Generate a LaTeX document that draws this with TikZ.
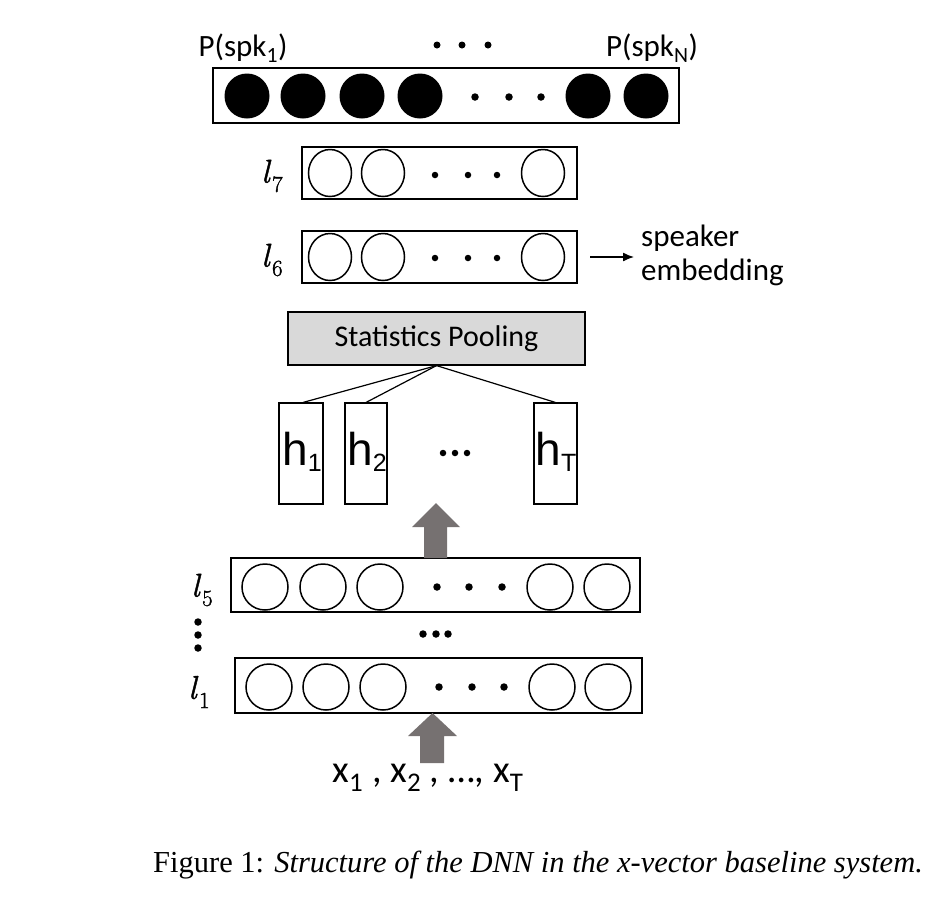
\documentclass[tikz,border=0pt]{standalone}
\usepackage{fontspec}
\setmainfont{Carlito}
\newfontfamily\arialfont{Liberation Sans}
\newfontfamily\capfont{Liberation Serif}
\newfontfamily\lmfont[FakeBold=1.3]{Latin Modern Roman}
\usetikzlibrary{shapes.geometric,calc,arrows.meta}
\definecolor{arrowgray}{RGB}{118,113,113}
\definecolor{poolgray}{RGB}{217,217,217}
\tikzset{
  layerbox/.style={draw=black, line width=1.6pt, rectangle, inner sep=0pt},
  neuron/.style={draw=black, line width=1.5pt, circle, inner sep=0pt, minimum size=46pt},
  oval/.style={draw=black, line width=1.5pt, ellipse, inner sep=0pt, minimum width=43pt, minimum height=47pt},
  outneuron/.style={fill=black, circle, inner sep=0pt, minimum size=45pt},
  bigdot/.style={fill=black, circle, inner sep=0pt, minimum size=7.5pt},
  hbox/.style={draw=black, line width=1.1pt, rectangle, inner sep=0pt, minimum height=101pt},
  hlabel/.style={font=\arialfont\fontsize{46}{46}\selectfont, inner sep=0pt},
  lbl/.style={font=\fontsize{31}{34}\selectfont, inner sep=0pt},
  layerlbl/.style={font=\lmfont\fontsize{33}{33}\selectfont, inner sep=0pt},
  blockarrow/.style={fill=arrowgray},
  link/.style={line width=1.2pt},
}
\newcommand{\hsub}[1]{\raisebox{-0.14em}{\fontsize{25}{25}\selectfont #1}}
\newcommand{\layername}[1]{{\itshape l}\kern2.5pt\raisebox{-0.28em}{\fontsize{23}{23}\selectfont #1}}
\begin{document}
\begin{tikzpicture}[x=1pt,y=-1pt]
\useasboundingbox (0,0) rectangle (930,898);

% ---- output layer
\node[layerbox, minimum width=466pt, minimum height=55pt] (out) at (446,95.5) {};
\foreach \x/\n in {247/o1,303/o2,362/o3,420/o4,588/o5,646/o6}
  \node[outneuron] (\n) at (\x,96) {};
\foreach \x/\n in {475/od1,509/od2,541/od3}
  \node[bigdot] (\n) at (\x,97) {};
\node[lbl] (p1) at (243,48) {P(spk\textsubscript{1})};
\node[lbl] (pn) at (652,48) {P(spk\textsubscript{N})};
\foreach \x/\n in {437/td1,462/td2,488/td3}
  \node[bigdot, minimum size=7pt] (\n) at (\x,45) {};

% ---- l7
\node[layerbox, minimum width=275pt, minimum height=52pt] (l7) at (439.5,173) {};
\foreach \x/\n in {330/a1,383/a2,543/a3}
  \node[oval] (\n) at (\x,173) {};
\foreach \x/\n in {435/ad1,468/ad2,497/ad3}
  \node[bigdot, minimum size=6.5pt] (\n) at (\x,175) {};
\node[layerlbl] (l7lbl) at (272,176) {\layername{7}};

% ---- l6
\node[layerbox, minimum width=275pt, minimum height=52pt] (l6) at (439.5,257) {};
\foreach \x/\n in {330/b1,383/b2,543/b3}
  \node[oval] (\n) at (\x,257) {};
\foreach \x/\n in {435/bd1,468/bd2,497/bd3}
  \node[bigdot, minimum size=6.5pt] (\n) at (\x,258) {};
\node[layerlbl] (l6lbl) at (272,260) {\layername{6}};
\coordinate (embstart) at (590,257);
\coordinate (embend) at (634,257);
\draw[line width=1.3pt, -{Latex[length=11pt,width=9pt]}] (embstart) -- (embend);
\node[lbl, anchor=west, align=left] (emb) at (641,255) {speaker\\embedding};

% ---- statistics pooling
\node[draw=black, line width=1.2pt, fill=poolgray, minimum width=297pt, minimum height=53pt, inner sep=0pt,
      font=\fontsize{30}{30}\selectfont] (pool) at (436.5,338.5) {Statistics Pooling};

% ---- h vectors
\node[hbox, minimum width=44pt] (h1) at (301,453.5) {};
\node[hbox, minimum width=42pt] (h2) at (366,453.5) {};
\node[hbox, minimum width=43pt] (hT) at (555.5,453.5) {};
\node[hlabel] (h1t) at (302,452) {h\hsub{1}};
\node[hlabel] (h2t) at (367,452) {h\hsub{2}};
\node[hlabel] (hTt) at (556,452) {h\hsub{T}};
\foreach \x/\n in {443/hd1,455/hd2,467/hd3}
  \node[bigdot, minimum size=6.5pt] (\n) at (\x,453) {};
\draw[link] (pool.south) -- ($(h1.north)+(2,0)$);
\draw[link] (pool.south) -- (h2.north);
\draw[link] (pool.south) -- (hT.north);

% ---- l5
\node[layerbox, minimum width=409pt, minimum height=54pt] (l5) at (435.5,585) {};
\foreach \x/\n in {265/c1,323/c2,380/c3,550/c4,607/c5}
  \node[neuron] (\n) at (\x,587) {};
\foreach \x/\n in {437/cd1,469/cd2,502/cd3}
  \node[bigdot] (\n) at (\x,587) {};
\node[layerlbl] (l5lbl) at (202,590) {\layername{5}};

% ---- middle dots
\foreach \x/\n in {423/md1,436/md2,448/md3}
  \node[bigdot] (\n) at (\x,634) {};
\foreach \y/\n in {622/vd1,635/vd2,648/vd3}
  \node[bigdot] (\n) at (198,\y) {};

% ---- l1
\node[layerbox, minimum width=407pt, minimum height=55pt] (l1) at (438.5,685.5) {};
\foreach \x/\n in {269/e1,326/e2,383/e3,552/e4,608/e5}
  \node[neuron] (\n) at (\x,687) {};
\foreach \x/\n in {439/ed1,472/ed2,504/ed3}
  \node[bigdot] (\n) at (\x,687) {};
\node[layerlbl] (l1lbl) at (199,692) {\layername{1}};

% ---- block arrows
\fill[blockarrow] (424,558) -- (424,527) -- (412,527) -- (436,503) -- (460,527) -- (447,527) -- (447,558) -- cycle;
\fill[blockarrow] (420,763) -- (420,736) -- (408,736) -- (432.5,713) -- (457,736) -- (444,736) -- (444,763) -- cycle;

% ---- input
\node[font=\fontsize{38.5}{38}\selectfont, inner sep=0pt] (inp) at (428,778)
  {x\textsubscript{1} , x\textsubscript{2} , …, x\textsubscript{T}};

% ---- caption
\node[anchor=west, inner sep=0pt, font=\capfont\fontsize{30.5}{30}\selectfont] (cap) at (153,865)
  {Figure 1: \itshape Structure of the DNN in the x-vector baseline system.};
\end{tikzpicture}
\end{document}
